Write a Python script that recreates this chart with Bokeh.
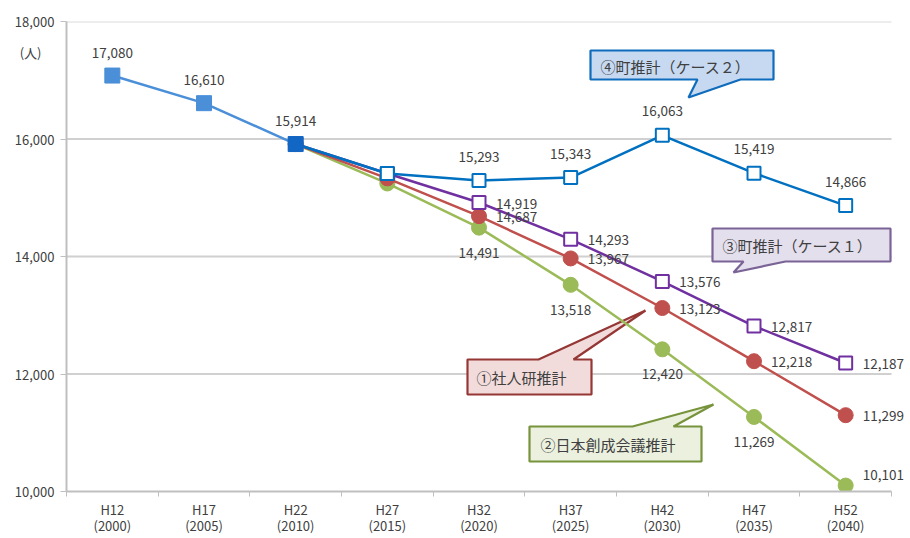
from bokeh.plotting import figure
from bokeh.models import Range1d, FixedTicker, NumeralTickFormatter
from bokeh.core.properties import value
from bokeh.embed import file_html
from bokeh.resources import INLINE

# ---------------- data ----------------
categories = ["H12", "H17", "H22", "H27", "H32", "H37", "H42", "H47", "H52"]
years = ["2000", "2005", "2010", "2015", "2020", "2025", "2030", "2035", "2040"]
y_ticks = [10000, 12000, 14000, 16000, 18000]
unit_label = "(人)"

actual = [17080, 16610, 15914]                                   # H12..H22
case2 = [15914, 15413, 15293, 15343, 16063, 15419, 14866]        # ④ H22..H52
case1 = [15914, 15413, 14919, 14293, 13576, 12817, 12187]        # ③ H22..H52
ipss = [15914, 15330, 14687, 13967, 13123, 12218, 11299]         # ① H22..H52
jcn = [15914, 15243, 14491, 13518, 12420, 11269, 10101]          # ② H22..H52

callout_texts = ["④町推計（ケース２）", "③町推計（ケース１）", "①社人研推計", "②日本創成会議推計"]

# ---------------- layout helpers ----------------
FONT = "Noto Sans CJK JP"
TXT = "#404040"
n = len(categories)
x_act = list(range(len(actual)))
x_proj = list(range(2, n))

LEFT, TOP, PXW, PXH = 66, 21, 825, 470
UNIT = PXW / n
EXTRA = 17  # px of frame beyond the last category band (room for right labels)


def px2x(px):
    return (px - LEFT) / UNIT - 0.5


def px2y(py):
    return y_ticks[-1] - (py - TOP) * (y_ticks[-1] - y_ticks[0]) / PXH


p = figure(frame_width=PXW + EXTRA, frame_height=PXH,
           x_range=Range1d(-0.5, n - 0.5 + EXTRA / UNIT), y_range=Range1d(y_ticks[0], y_ticks[-1]),
           output_backend="svg", toolbar_location=None,
           min_border_left=LEFT, min_border_right=2, min_border_top=TOP, min_border_bottom=47)
p.outline_line_color = None
p.background_fill_color = "white"

# axes
p.xaxis.ticker = FixedTicker(ticks=list(range(n)), minor_ticks=[i - 0.5 for i in range(n + 1)])
p.xaxis.major_label_overrides = {i: f"{c}\n({y})" for i, (c, y) in enumerate(zip(categories, years))}
p.xaxis.bounds = (-0.5, n - 0.5)
p.xaxis.major_tick_line_color = None
p.xaxis.minor_tick_in = 0
p.xaxis.minor_tick_out = 5
p.xaxis.minor_tick_line_color = "#bfbfbf"
p.xaxis.axis_line_color = "#bfbfbf"
p.xaxis.axis_line_width = 2
p.xaxis.major_label_text_font = FONT
p.xaxis.major_label_text_font_size = "13px"
p.xaxis.major_label_text_line_height = 0.85
p.xaxis.major_label_text_color = TXT
p.xaxis.major_label_standoff = 2

unit_pos = px2y(52)
p.yaxis.ticker = FixedTicker(ticks=y_ticks + [unit_pos], minor_ticks=y_ticks)
p.yaxis.formatter = NumeralTickFormatter(format="0,0")
p.yaxis.major_label_overrides = {unit_pos: unit_label + "\u3000"}
p.yaxis.major_tick_line_color = None
p.yaxis.minor_tick_in = 0
p.yaxis.minor_tick_out = 6
p.yaxis.minor_tick_line_color = "#bfbfbf"
p.yaxis.axis_line_color = "#bfbfbf"
p.yaxis.axis_line_width = 2
p.yaxis.major_label_text_font = FONT
p.yaxis.major_label_text_font_size = "13px"
p.yaxis.major_label_text_color = TXT
p.yaxis.major_label_standoff = 6

p.xgrid.visible = False
p.ygrid.visible = False
p.segment(x0=-0.5, x1=n - 0.5, y0=y_ticks[1:-1], y1=y_ticks[1:-1], line_color="#d0d0d0", line_width=2)
p.segment(x0=-0.5, x1=n - 0.5, y0=y_ticks[-1:], y1=y_ticks[-1:], line_color="#dcdcdc", line_width=2)

# ---------------- callouts ----------------
def callout(x0, y0, x1, y1, b0, b1, tip, side, fill, line, text, tx, ty):
    if side == "bottom":
        pts = [(x0, y0), (x1, y0), (x1, y1), (b1, y1), tip, (b0, y1), (x0, y1)]
    else:
        pts = [(x0, y0), (b0, y0), tip, (b1, y0), (x1, y0), (x1, y1), (x0, y1)]
    p.patch([px2x(a) for a, _ in pts], [px2y(b) for _, b in pts],
            fill_color=fill, line_color=line, line_width=2.2)
    p.text(x=[px2x(tx)], y=[px2y(ty)], text=[text], text_font=value(FONT), text_font_size="15px",
           text_color=TXT, text_baseline="middle", text_align="left")


callout(590, 50, 773, 79, 697, 740, (688, 97), "bottom", "#c6d9f1", "#0f6cbd", callout_texts[0], 600, 66)
callout(712, 228, 890, 261, 743, 785, (733, 272), "bottom", "#e4dfec", "#7a6396", callout_texts[1], 722, 245)
callout(467, 359, 591, 394, 538, 573, (645, 310), "top", "#f2dcdb", "#953735", callout_texts[2], 476, 377)
callout(529, 426, 701, 461, 632, 673, (713, 404), "top", "#ebf1de", "#77933c", callout_texts[3], 540, 444)

# ---------------- series ----------------
GREEN, RED, PURPLE, BLUE, LBLUE = "#9bbb59", "#c0504d", "#7030a0", "#0070c0", "#4a8fd8"

p.line(x_proj, jcn, line_color=GREEN, line_width=2.5)
p.scatter(x_proj, jcn, marker="circle", size=15, fill_color=GREEN, line_color=GREEN)
p.line(x_proj, ipss, line_color=RED, line_width=2.5)
p.scatter(x_proj, ipss, marker="circle", size=15, fill_color=RED, line_color=RED)
p.line(x_proj, case1, line_color=PURPLE, line_width=2.5)
p.scatter(x_proj, case1, marker="square", size=13, fill_color="white", line_color=PURPLE, line_width=2)
p.line(x_proj, case2, line_color=BLUE, line_width=2.5)
p.scatter(x_proj[1:], case2[1:], marker="square", size=13, fill_color="white", line_color=BLUE, line_width=2)
p.line(x_act, actual, line_color=LBLUE, line_width=2.5)
p.scatter(x_act[:2], actual[:2], marker="square", size=15, fill_color=LBLUE, line_color=LBLUE)
p.scatter(x_act[2:], actual[2:], marker="square", size=15, fill_color="#1266c4", line_color="#1266c4")

# ---------------- data labels ----------------
def labels(xs, ys, align, xo, yo):
    p.text(x=xs, y=ys, text=[f"{v:,}" for v in ys], text_font=value(FONT), text_font_size="13.5px",
           text_color=TXT, text_align=align, text_baseline="middle", x_offset=xo, y_offset=yo)


labels(x_act, actual, "center", 0, -23)
labels(x_proj[2:], case2[2:], "center", 0, -24)
labels(x_proj[2:], case1[2:], "left", 17, 1)
labels(x_proj[2:], ipss[2:], "left", 17, 1)
labels(x_proj[2:-1], jcn[2:-1], "center", 0, 25)
labels(x_proj[-1:], jcn[-1:], "left", 17, -11)

open("out.html", "w").write(file_html(p, INLINE))
